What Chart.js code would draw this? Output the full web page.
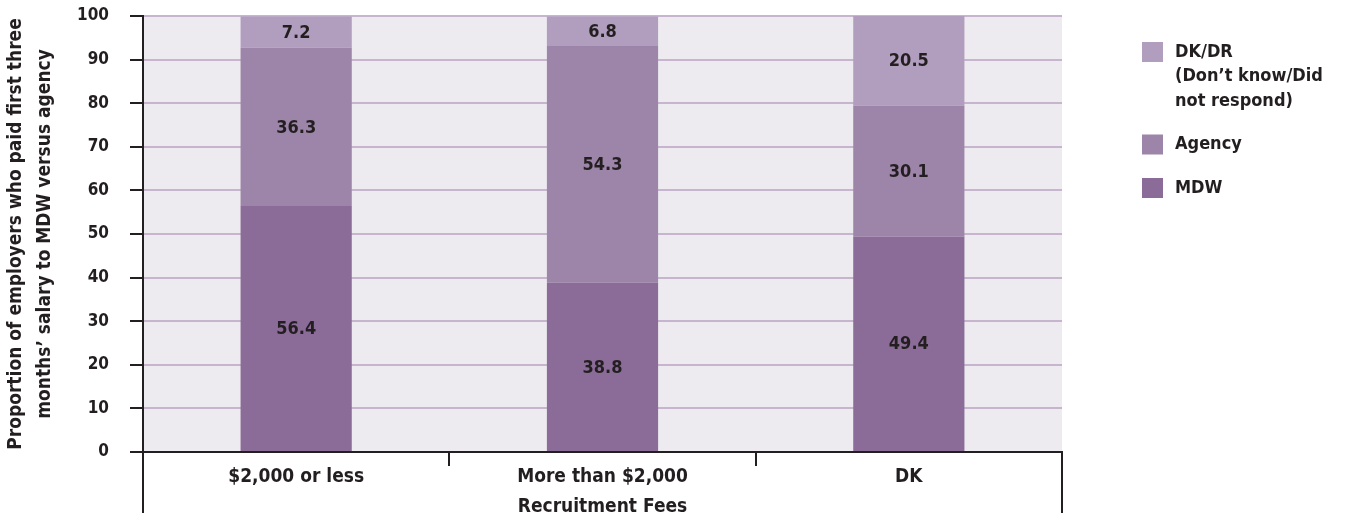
<!DOCTYPE html>
<html>
<head>
<meta charset="utf-8">
<script src="https://cdn.jsdelivr.net/npm/chart.js@4/dist/chart.umd.min.js"></script>
<style>
  html, body { margin: 0; padding: 0; background: #fff; }
  #wrap { width: 1346px; height: 526px; }
</style>
</head>
<body>
<div id="wrap"><canvas id="feesChart" width="1346" height="526"></canvas></div>
<script>
// données
const categories = ['$2,000 or less', 'More than $2,000', 'DK'];
const mdwValues = [56.4, 38.8, 49.4];
const agencyValues = [36.3, 54.3, 30.1];
const dkdrValues = [7.2, 6.8, 20.5];
const yTicks = [0, 10, 20, 30, 40, 50, 60, 70, 80, 90, 100];
const legendLines = {
    'DK/DR': ['DK/DR', '(Don\u2019t know/Did', 'not respond)'],
    'Agency': ['Agency'],
    'MDW': ['MDW']
};

const FONT = '"DejaVu Sans Condensed", "DejaVu Sans", sans-serif';
const DARK = '#231f20';

// fond lavande de la zone de tracé
const plotBg = {
    id: 'plotBg',
    beforeDraw(chart) {
        const a = chart.chartArea, ctx = chart.ctx;
        ctx.save();
        ctx.fillStyle = '#edeaf0';
        ctx.fillRect(a.left, a.top, a.right - a.left, a.bottom - a.top);
        ctx.restore();
    }
};

// valeurs au centre des segments, lignes des bords, légende à droite
const extras = {
    id: 'extras',
    afterDraw(chart) {
        const ctx = chart.ctx, a = chart.chartArea;
        ctx.save();
        ctx.font = 'bold 18px ' + FONT;
        ctx.fillStyle = DARK;
        ctx.textAlign = 'center';
        ctx.textBaseline = 'middle';
        chart.data.datasets.forEach((ds, i) => {
            chart.getDatasetMeta(i).data.forEach((bar, j) => {
                const mid = (bar.y + bar.base) / 2;
                ctx.fillText(ds.data[j].toFixed(1), bar.x, mid + 1);
            });
        });

        // bords gauche et droit prolongés sous l'axe
        ctx.strokeStyle = DARK;
        ctx.lineWidth = 2;
        ctx.beginPath();
        ctx.moveTo(a.left, a.bottom);
        ctx.lineTo(a.left, chart.height - 13);
        ctx.moveTo(a.right, a.bottom);
        ctx.lineTo(a.right, chart.height - 13);
        ctx.stroke();

        // légende
        let y = 42;
        ctx.textAlign = 'left';
        ctx.font = 'bold 18px ' + FONT;
        const order = chart.data.datasets.slice().reverse();
        order.forEach(ds => {
            const lines = legendLines[ds.label];
            ctx.fillStyle = ds.backgroundColor;
            ctx.fillRect(1142, y, 21, 20);
            ctx.fillStyle = DARK;
            lines.forEach((t, k) => ctx.fillText(t, 1175, y + 10 + k * 24.5));
            y += lines.length * 24.5 + 19;
        });
        ctx.restore();
    }
};

new Chart(document.getElementById('feesChart'), {
    type: 'bar',
    data: {
        labels: categories,
        datasets: [
            { label: 'MDW', data: mdwValues, backgroundColor: '#8b6c98' },
            { label: 'Agency', data: agencyValues, backgroundColor: '#9d84a9' },
            { label: 'DK/DR', data: dkdrValues, backgroundColor: '#b19ebe' }
        ]
    },
    options: {
        responsive: false,
        animation: false,
        layout: { padding: { top: 16, right: 284, left: 0, bottom: 0 } },
        datasets: {
            bar: { barPercentage: 0.363, categoryPercentage: 1 }
        },
        scales: {
            x: {
                stacked: true,
                afterFit(scale) {
                    scale.height = 74;
                    scale.paddingLeft = 0;
                    scale.paddingRight = 0;
                },
                border: { display: true, color: DARK, width: 2 },
                grid: {
                    offset: true,
                    drawOnChartArea: false,
                    tickLength: 14,
                    lineWidth: 2,
                    color: DARK
                },
                ticks: {
                    color: DARK,
                    font: { family: FONT, size: 19, weight: 'bold' },
                    padding: 0
                },
                title: {
                    display: true,
                    text: 'Recruitment Fees',
                    color: DARK,
                    font: { family: FONT, size: 19, weight: 'bold' },
                    padding: { top: 4, bottom: 8 }
                }
            },
            y: {
                stacked: true,
                min: 0,
                max: 100,
                afterFit(scale) {
                    scale.width = 143;
                    scale.paddingTop = 0;
                    scale.paddingBottom = 0;
                },
                afterBuildTicks(scale) { scale.ticks = yTicks.map(v => ({ value: v })); },
                border: { display: true, color: DARK, width: 2 },
                grid: {
                    color: '#c7b5d0',
                    lineWidth: 2,
                    tickLength: 13,
                    tickColor: DARK
                },
                ticks: {
                    color: DARK,
                    font: { family: FONT, size: 17, weight: 'bold' },
                    padding: 21
                },
                title: {
                    display: true,
                    text: ['Proportion of employers who paid first three', 'months\u2019 salary to MDW versus agency'],
                    color: DARK,
                    font: { family: FONT, size: 19, weight: 'bold', lineHeight: 1.5 },
                    padding: { top: 2, bottom: 0 }
                }
            }
        },
        plugins: {
            legend: { display: false },
            tooltip: { enabled: false }
        }
    },
    plugins: [plotBg, extras]
});
</script>
</body>
</html>
